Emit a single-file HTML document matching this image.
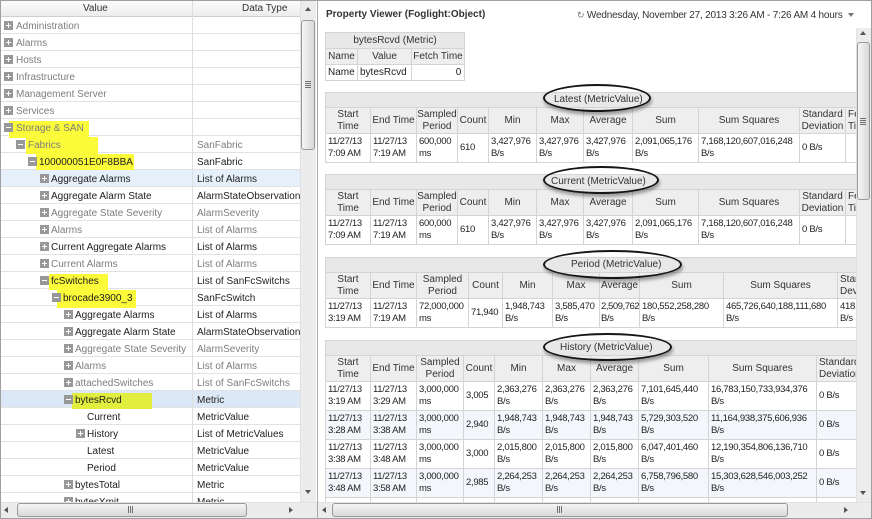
<!DOCTYPE html>
<html><head><meta charset="utf-8"><style>
*{box-sizing:border-box;margin:0;padding:0}
body{width:872px;height:519px;position:relative;overflow:hidden;background:#fff;font-family:"Liberation Sans",Arial,sans-serif;font-size:10px;color:#333}
.a{position:absolute;white-space:nowrap}
.clip{position:absolute;overflow:hidden}
.r{position:absolute;left:0;width:300px;height:17px;border-bottom:1px solid #e2e2e2}
.r span{position:absolute;top:4px;line-height:12px;white-space:nowrap}
.r .d{left:197px}
.g{color:#7d7d7d}.k{color:#1e1e1e}
.i{position:absolute;top:4px;width:9px;height:9px;background:#989898}
.i:before{content:"";position:absolute;left:2px;top:4px;width:5px;height:1px;background:#fff}
.p:after{content:"";position:absolute;left:4px;top:2px;width:1px;height:5px;background:#fff}
.y{position:absolute;background:#fbfb3a}
.G{position:absolute;display:grid;gap:1px;padding:1px;background:#d4d4d4}
.G>div{background:#fff;display:flex;align-items:center;padding:0 0 0 2px;white-space:nowrap;overflow:hidden;line-height:12px;color:#222;font-size:9.5px;letter-spacing:-.3px}
.G>.t{grid-column:1/-1;background:#e8e8e8;letter-spacing:0;color:#333;font-size:10px}
.G>.h{background:#eeeeee;justify-content:center;text-align:center;padding:0;letter-spacing:0;color:#333;font-size:10px}
.G>.hl{justify-content:flex-start;text-align:left;padding-left:2px}
.G>.z{background:#f3f6fb}
.o{position:absolute;border:2px solid #151515;border-radius:50%;box-shadow:1px 3px 3px rgba(0,0,0,.35)}
.sb{position:absolute;background:#ececec}
.tv{position:absolute;border:1px solid #999;border-radius:3px;background:linear-gradient(to right,#f5f5f5,#d9d9d9)}
.thz{position:absolute;border:1px solid #999;border-radius:3px;background:linear-gradient(#f5f5f5,#d8d8d8)}
.up{position:absolute;width:0;height:0;border-left:3.5px solid transparent;border-right:3.5px solid transparent;border-bottom:4px solid #555}
.dn{position:absolute;width:0;height:0;border-left:3.5px solid transparent;border-right:3.5px solid transparent;border-top:4px solid #555}
.lf{position:absolute;width:0;height:0;border-top:3.5px solid transparent;border-bottom:3.5px solid transparent;border-right:4px solid #555}
.rt{position:absolute;width:0;height:0;border-top:3.5px solid transparent;border-bottom:3.5px solid transparent;border-left:4px solid #555}
.gl{position:absolute;background:#6f6f6f}
</style></head><body>

<!-- LEFT PANEL -->
<div class="clip" style="left:0;top:0;width:300px;height:502px">
  <div class="a" style="left:0;top:0;width:300px;height:17px;background:linear-gradient(#fdfdfd,#ececec);border-bottom:1px solid #cfcfcf"></div>
  <div class="a" style="left:83px;top:3px;line-height:12px">Value</div>
  <div class="a" style="left:242px;top:3px;line-height:12px">Data Type</div>

  <div class="r" style="top:17px"><i class="i p" style="left:4px"></i><span class="g" style="left:16px">Administration</span></div>
  <div class="r" style="top:34px"><i class="i p" style="left:4px"></i><span class="g" style="left:16px">Alarms</span></div>
  <div class="r" style="top:51px"><i class="i p" style="left:4px"></i><span class="g" style="left:16px">Hosts</span></div>
  <div class="r" style="top:68px"><i class="i p" style="left:4px"></i><span class="g" style="left:16px">Infrastructure</span></div>
  <div class="r" style="top:85px"><i class="i p" style="left:4px"></i><span class="g" style="left:16px">Management Server</span></div>
  <div class="r" style="top:102px"><i class="i p" style="left:4px"></i><span class="g" style="left:16px">Services</span></div>
  <div class="r" style="top:119px"><div class="y" style="left:9px;top:2px;width:80px;height:17px"></div><i class="i" style="left:4px"></i><span class="g" style="left:16px">Storage &amp; SAN</span></div>
  <div class="r" style="top:136px"><div class="y" style="left:26px;top:1px;width:72px;height:17px"></div><i class="i" style="left:16px"></i><span class="g" style="left:28px">Fabrics</span><span class="d g">SanFabric</span></div>
  <div class="r" style="top:153px"><div class="y" style="left:36px;top:1px;width:98px;height:17px"></div><i class="i" style="left:28px"></i><span class="k" style="left:39px">100000051E0F8BBA</span><span class="d k">SanFabric</span></div>
  <div class="r" style="top:170px;background:#e6f0fb"><i class="i p" style="left:40px"></i><span class="k" style="left:51px">Aggregate Alarms</span><span class="d k">List of Alarms</span></div>
  <div class="r" style="top:187px"><i class="i p" style="left:40px"></i><span class="k" style="left:51px">Aggregate Alarm State</span><span class="d k">AlarmStateObservation</span></div>
  <div class="r" style="top:204px"><i class="i p" style="left:40px"></i><span class="g" style="left:51px">Aggregate State Severity</span><span class="d g">AlarmSeverity</span></div>
  <div class="r" style="top:221px"><i class="i p" style="left:40px"></i><span class="g" style="left:51px">Alarms</span><span class="d g">List of Alarms</span></div>
  <div class="r" style="top:238px"><i class="i p" style="left:40px"></i><span class="k" style="left:51px">Current Aggregate Alarms</span><span class="d k">List of Alarms</span></div>
  <div class="r" style="top:255px"><i class="i p" style="left:40px"></i><span class="g" style="left:51px">Current Alarms</span><span class="d g">List of Alarms</span></div>
  <div class="r" style="top:272px"><div class="y" style="left:49px;top:2px;width:59px;height:16px"></div><i class="i" style="left:40px"></i><span class="k" style="left:51px">fcSwitches</span><span class="d k">List of SanFcSwitchs</span></div>
  <div class="r" style="top:289px"><div class="y" style="left:57px;top:1px;width:79px;height:18px"></div><i class="i" style="left:52px"></i><span class="k" style="left:63px">brocade3900_3</span><span class="d k">SanFcSwitch</span></div>
  <div class="r" style="top:306px"><i class="i p" style="left:64px"></i><span class="k" style="left:75px">Aggregate Alarms</span><span class="d k">List of Alarms</span></div>
  <div class="r" style="top:323px"><i class="i p" style="left:64px"></i><span class="k" style="left:75px">Aggregate Alarm State</span><span class="d k">AlarmStateObservation</span></div>
  <div class="r" style="top:340px"><i class="i p" style="left:64px"></i><span class="g" style="left:75px">Aggregate State Severity</span><span class="d g">AlarmSeverity</span></div>
  <div class="r" style="top:357px"><i class="i p" style="left:64px"></i><span class="g" style="left:75px">Alarms</span><span class="d g">List of Alarms</span></div>
  <div class="r" style="top:374px"><i class="i p" style="left:64px"></i><span class="g" style="left:75px">attachedSwitches</span><span class="d g">List of SanFcSwitchs</span></div>
  <div class="r" style="top:391px;background:#dce8f6"><div class="y" style="left:72px;top:2px;width:80px;height:16px;background:#e2ee3e"></div><i class="i" style="left:64px"></i><span class="k" style="left:75px">bytesRcvd</span><span class="d k">Metric</span></div>
  <div class="r" style="top:408px"><span class="k" style="left:87px">Current</span><span class="d k">MetricValue</span></div>
  <div class="r" style="top:425px"><i class="i p" style="left:76px"></i><span class="k" style="left:87px">History</span><span class="d k">List of MetricValues</span></div>
  <div class="r" style="top:442px"><span class="k" style="left:87px">Latest</span><span class="d k">MetricValue</span></div>
  <div class="r" style="top:459px"><span class="k" style="left:87px">Period</span><span class="d k">MetricValue</span></div>
  <div class="r" style="top:476px"><i class="i p" style="left:64px"></i><span class="k" style="left:75px">bytesTotal</span><span class="d k">Metric</span></div>
  <div class="r" style="top:493px"><i class="i p" style="left:64px"></i><span class="k" style="left:75px">bytesXmit</span><span class="d k">Metric</span></div>

  <div class="a" style="left:192px;top:0;width:1px;height:502px;background:#dedede"></div>
</div>

<!-- left scrollbars -->
<div class="sb" style="left:300px;top:0;width:16px;height:502px;border-left:1px solid #e2e2e2"></div>
<div class="up" style="left:305px;top:7px"></div>
<div class="tv" style="left:301px;top:20px;width:14px;height:130px"></div>
<div class="gl" style="left:305px;top:81px;width:6px;height:1px"></div>
<div class="gl" style="left:305px;top:83px;width:6px;height:1px"></div>
<div class="gl" style="left:305px;top:85px;width:6px;height:1px"></div>
<div class="gl" style="left:305px;top:87px;width:6px;height:1px"></div>
<div class="dn" style="left:305px;top:490px"></div>
<div class="sb" style="left:0;top:502px;width:317px;height:16px;border-top:1px solid #e2e2e2"></div>
<div class="lf" style="left:4px;top:507px"></div>
<div class="thz" style="left:17px;top:503px;width:230px;height:14px"></div>
<div class="gl" style="left:128px;top:506px;width:1px;height:7px"></div>
<div class="gl" style="left:130px;top:506px;width:1px;height:7px"></div>
<div class="gl" style="left:132px;top:506px;width:1px;height:7px"></div>
<div class="rt" style="left:289px;top:507px"></div>

<div class="a" style="left:317px;top:0;width:1px;height:519px;background:#a9a9a9"></div>

<!-- RIGHT PANEL -->
<div class="a" style="left:326px;top:9px;line-height:12px;font-weight:bold;color:#333">Property Viewer (Foglight:Object)</div>
<div class="a" style="left:577px;top:9px;line-height:12px;color:#333;letter-spacing:-.2px"><span style="font-size:9px;color:#777">↻</span> Wednesday, November 27, 2013 3:26 AM - 7:26 AM 4 hours</div>
<div class="dn" style="left:848px;top:13px;border-top-color:#777"></div>

<div class="clip" style="left:320px;top:28px;width:536px;height:474px">
<div class="a" style="left:-320px;top:-28px;width:872px;height:519px">

  <div class="G" style="left:325px;top:32px;grid-template-columns:31px 53px 52px;grid-template-rows:15px 15px 15px">
    <div class="t" style="justify-content:center;padding:0">bytesRcvd (Metric)</div>
    <div class="h">Name</div><div class="h">Value</div><div class="h">Fetch Time</div>
    <div style="font-size:10px;letter-spacing:0">Name</div><div style="font-size:10px;letter-spacing:0">bytesRcvd</div><div style="justify-content:flex-end;padding-right:3px;font-size:10px">0</div>
  </div>

  <!-- Latest -->
  <div class="G" style="left:325px;top:92px;grid-template-columns:44px 45px 40px 30px 47px 46px 48px 65px 100px 45px 44px;grid-template-rows:14px 25px 28px">
    <div class="t" style="padding-left:228px">Latest (MetricValue)</div>
    <div class="h">Start<br>Time</div><div class="h">End Time</div><div class="h">Sampled<br>Period</div><div class="h">Count</div><div class="h">Min</div><div class="h">Max</div><div class="h">Average</div><div class="h">Sum</div><div class="h">Sum Squares</div><div class="h">Standard<br>Deviation</div><div class="h hl">Fetch<br>Time</div>
    <div>11/27/13<br>7:09 AM</div><div>11/27/13<br>7:19 AM</div><div>600,000<br>ms</div><div>610</div><div>3,427,976<br>B/s</div><div>3,427,976<br>B/s</div><div>3,427,976<br>B/s</div><div>2,091,065,176<br>B/s</div><div>7,168,120,607,016,248<br>B/s</div><div>0 B/s</div><div></div>
  </div>
  <div class="o" style="left:543px;top:84px;width:108px;height:28px"></div>

  <!-- Current -->
  <div class="G" style="left:325px;top:174px;grid-template-columns:44px 45px 40px 30px 47px 46px 48px 65px 100px 45px 44px;grid-template-rows:14px 25px 28px">
    <div class="t" style="padding-left:225px">Current (MetricValue)</div>
    <div class="h">Start<br>Time</div><div class="h">End Time</div><div class="h">Sampled<br>Period</div><div class="h">Count</div><div class="h">Min</div><div class="h">Max</div><div class="h">Average</div><div class="h">Sum</div><div class="h">Sum Squares</div><div class="h">Standard<br>Deviation</div><div class="h hl">Fetch<br>Time</div>
    <div>11/27/13<br>7:09 AM</div><div>11/27/13<br>7:19 AM</div><div>600,000<br>ms</div><div>610</div><div>3,427,976<br>B/s</div><div>3,427,976<br>B/s</div><div>3,427,976<br>B/s</div><div>2,091,065,176<br>B/s</div><div>7,168,120,607,016,248<br>B/s</div><div>0 B/s</div><div></div>
  </div>
  <div class="o" style="left:543px;top:166px;width:116px;height:28px"></div>

  <!-- Period -->
  <div class="G" style="left:325px;top:257px;grid-template-columns:44px 45px 51px 33px 49px 46px 39px 83px 113px 60px;grid-template-rows:14px 25px 28px">
    <div class="t" style="padding-left:245px">Period (MetricValue)</div>
    <div class="h">Start<br>Time</div><div class="h">End Time</div><div class="h">Sampled<br>Period</div><div class="h">Count</div><div class="h">Min</div><div class="h">Max</div><div class="h">Average</div><div class="h">Sum</div><div class="h">Sum Squares</div><div class="h hl">Standard<br>Deviation</div>
    <div>11/27/13<br>3:19 AM</div><div>11/27/13<br>7:19 AM</div><div>72,000,000<br>ms</div><div>71,940</div><div>1,948,743<br>B/s</div><div>3,585,470<br>B/s</div><div style="padding-left:1px;letter-spacing:-.45px">2,509,762<br>B/s</div><div>180,552,258,280<br>B/s</div><div>465,726,640,188,111,680<br>B/s</div><div style="padding-left:2px">418.54<br>B/s</div>
  </div>
  <div class="o" style="left:543px;top:250px;width:139px;height:29px"></div>

  <!-- History -->
  <div class="G" style="left:325px;top:340px;grid-template-columns:44px 45px 46px 30px 47px 47px 47px 69px 107px 60px;grid-template-rows:14px 25px 28px 28px 28px 28px 28px">
    <div class="t" style="padding-left:234px">History (MetricValue)</div>
    <div class="h">Start<br>Time</div><div class="h">End Time</div><div class="h">Sampled<br>Period</div><div class="h">Count</div><div class="h">Min</div><div class="h">Max</div><div class="h">Average</div><div class="h">Sum</div><div class="h">Sum Squares</div><div class="h hl">Standard<br>Deviation</div>
    <div>11/27/13<br>3:19 AM</div><div>11/27/13<br>3:29 AM</div><div>3,000,000<br>ms</div><div>3,005</div><div>2,363,276<br>B/s</div><div>2,363,276<br>B/s</div><div>2,363,276<br>B/s</div><div>7,101,645,440<br>B/s</div><div>16,783,150,733,934,376<br>B/s</div><div>0 B/s</div>
    <div class="z">11/27/13<br>3:28 AM</div><div class="z">11/27/13<br>3:38 AM</div><div class="z">3,000,000<br>ms</div><div class="z">2,940</div><div class="z">1,948,743<br>B/s</div><div class="z">1,948,743<br>B/s</div><div class="z">1,948,743<br>B/s</div><div class="z">5,729,303,520<br>B/s</div><div class="z">11,164,938,375,606,936<br>B/s</div><div class="z">0 B/s</div>
    <div>11/27/13<br>3:38 AM</div><div>11/27/13<br>3:48 AM</div><div>3,000,000<br>ms</div><div>3,000</div><div>2,015,800<br>B/s</div><div>2,015,800<br>B/s</div><div>2,015,800<br>B/s</div><div>6,047,401,460<br>B/s</div><div>12,190,354,806,136,710<br>B/s</div><div>0 B/s</div>
    <div class="z">11/27/13<br>3:48 AM</div><div class="z">11/27/13<br>3:58 AM</div><div class="z">3,000,000<br>ms</div><div class="z">2,985</div><div class="z">2,264,253<br>B/s</div><div class="z">2,264,253<br>B/s</div><div class="z">2,264,253<br>B/s</div><div class="z">6,758,796,580<br>B/s</div><div class="z">15,303,628,546,003,252<br>B/s</div><div class="z">0 B/s</div>
    <div></div><div></div><div></div><div></div><div></div><div></div><div></div><div></div><div></div><div></div>
  </div>
  <div class="o" style="left:543px;top:333px;width:129px;height:28px"></div>
</div>
</div>

<!-- right scrollbars -->
<div class="sb" style="left:856px;top:28px;width:15px;height:474px;border-left:1px solid #e2e2e2"></div>
<div class="up" style="left:860px;top:31px"></div>
<div class="tv" style="left:857px;top:42px;width:13px;height:158px"></div>
<div class="gl" style="left:860px;top:118px;width:6px;height:1px"></div>
<div class="gl" style="left:860px;top:120px;width:6px;height:1px"></div>
<div class="gl" style="left:860px;top:122px;width:6px;height:1px"></div>
<div class="gl" style="left:860px;top:124px;width:6px;height:1px"></div>
<div class="dn" style="left:860px;top:491px"></div>
<div class="sb" style="left:318px;top:502px;width:553px;height:16px;border-top:1px solid #e2e2e2"></div>
<div class="lf" style="left:322px;top:507px"></div>
<div class="thz" style="left:332px;top:503px;width:456px;height:14px"></div>
<div class="gl" style="left:557px;top:506px;width:1px;height:7px"></div>
<div class="gl" style="left:559px;top:506px;width:1px;height:7px"></div>
<div class="gl" style="left:561px;top:506px;width:1px;height:7px"></div>
<div class="rt" style="left:844px;top:507px"></div>

<div class="a" style="left:0;top:0;width:872px;height:519px;border:1px solid #a0a0a0"></div>
</body></html>
